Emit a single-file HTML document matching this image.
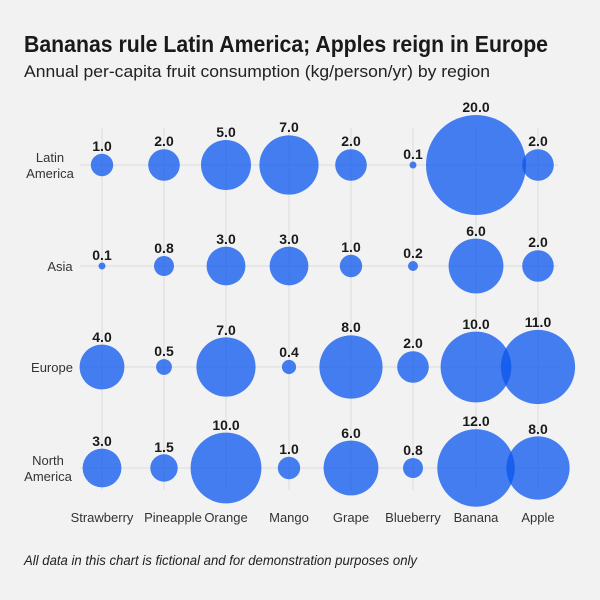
<!DOCTYPE html>
<html><head><meta charset="utf-8"><style>body{margin:0;background:#f2f2f2}svg{display:block}text{font-family:"Liberation Sans",sans-serif}</style></head><body>
<svg width="600" height="600" viewBox="0 0 600 600">
<rect width="600" height="600" fill="#f2f2f2"/>
<text x="24" y="52" font-size="23" font-weight="bold" fill="#1a1a1a" textLength="524" lengthAdjust="spacingAndGlyphs">Bananas rule Latin America; Apples reign in Europe</text>
<text x="24" y="77" font-size="17" fill="#222" textLength="466" lengthAdjust="spacingAndGlyphs">Annual per-capita fruit consumption (kg/person/yr) by region</text>
<g stroke="#dcdcdc" stroke-width="1">
<line x1="80" x2="558" y1="165" y2="165"/><line x1="80" x2="558" y1="266" y2="266"/><line x1="80" x2="558" y1="367" y2="367"/><line x1="80" x2="558" y1="468" y2="468"/>
<line y1="128" y2="490" x1="102" x2="102"/><line y1="128" y2="490" x1="164" x2="164"/><line y1="128" y2="490" x1="226" x2="226"/><line y1="128" y2="490" x1="289" x2="289"/><line y1="128" y2="490" x1="351" x2="351"/><line y1="128" y2="490" x1="413" x2="413"/><line y1="128" y2="490" x1="476" x2="476"/><line y1="128" y2="490" x1="538" x2="538"/>
</g>
<g font-size="13" fill="#333" text-anchor="middle">
<text x="50" y="162">Latin</text><text x="50" y="178">America</text>
<text x="60" y="271">Asia</text>
<text x="52" y="372">Europe</text>
<text x="48" y="465">North</text><text x="48" y="481">America</text>
<text x="102" y="522">Strawberry</text><text x="173" y="522">Pineapple</text><text x="226" y="522">Orange</text><text x="289" y="522">Mango</text><text x="351" y="522">Grape</text><text x="413" y="522">Blueberry</text><text x="476" y="522">Banana</text><text x="538" y="522">Apple</text>
</g>
<g fill="#0a55ee" fill-opacity="0.75">
<circle cx="102" cy="165" r="11.2"/><circle cx="164" cy="165" r="15.8"/><circle cx="226" cy="165" r="25"/><circle cx="289" cy="165" r="29.6"/><circle cx="351" cy="165" r="15.8"/><circle cx="413" cy="165" r="3.5"/><circle cx="476" cy="165" r="50"/><circle cx="538" cy="165" r="15.8"/>
<circle cx="102" cy="266" r="3.5"/><circle cx="164" cy="266" r="10"/><circle cx="226" cy="266" r="19.4"/><circle cx="289" cy="266" r="19.4"/><circle cx="351" cy="266" r="11.2"/><circle cx="413" cy="266" r="5"/><circle cx="476" cy="266" r="27.4"/><circle cx="538" cy="266" r="15.8"/>
<circle cx="102" cy="367" r="22.4"/><circle cx="164" cy="367" r="7.9"/><circle cx="226" cy="367" r="29.6"/><circle cx="289" cy="367" r="7.1"/><circle cx="351" cy="367" r="31.6"/><circle cx="413" cy="367" r="15.8"/><circle cx="476" cy="367" r="35.4"/><circle cx="538" cy="367" r="37.1"/>
<circle cx="102" cy="468" r="19.4"/><circle cx="164" cy="468" r="13.7"/><circle cx="226" cy="468" r="35.4"/><circle cx="289" cy="468" r="11.2"/><circle cx="351" cy="468" r="27.4"/><circle cx="413" cy="468" r="10"/><circle cx="476" cy="468" r="38.7"/><circle cx="538" cy="468" r="31.6"/>
</g>
<g font-size="14" font-weight="bold" fill="#1a1a1a" text-anchor="middle">
<text x="102" y="151">1.0</text><text x="164" y="146">2.0</text><text x="226" y="137">5.0</text><text x="289" y="132">7.0</text><text x="351" y="146">2.0</text><text x="413" y="159">0.1</text><text x="476" y="112">20.0</text><text x="538" y="146">2.0</text>
<text x="102" y="260">0.1</text><text x="164" y="253">0.8</text><text x="226" y="244">3.0</text><text x="289" y="244">3.0</text><text x="351" y="252">1.0</text><text x="413" y="258">0.2</text><text x="476" y="236">6.0</text><text x="538" y="247">2.0</text>
<text x="102" y="342">4.0</text><text x="164" y="356">0.5</text><text x="226" y="335">7.0</text><text x="289" y="357">0.4</text><text x="351" y="332">8.0</text><text x="413" y="348">2.0</text><text x="476" y="329">10.0</text><text x="538" y="327">11.0</text>
<text x="102" y="446">3.0</text><text x="164" y="452">1.5</text><text x="226" y="430">10.0</text><text x="289" y="454">1.0</text><text x="351" y="438">6.0</text><text x="413" y="455">0.8</text><text x="476" y="426">12.0</text><text x="538" y="434">8.0</text>
</g>
<text x="24" y="565" font-size="13.5" font-style="italic" fill="#222" textLength="393" lengthAdjust="spacingAndGlyphs">All data in this chart is fictional and for demonstration purposes only</text>
</svg>
</body></html>
